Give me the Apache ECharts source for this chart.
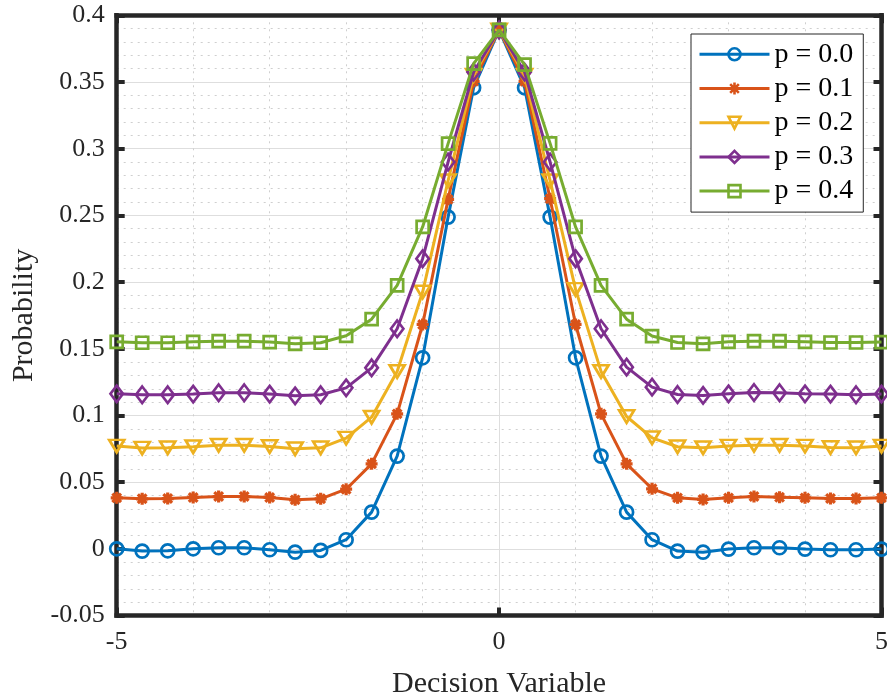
<!DOCTYPE html>
<html>
<head>
<meta charset="utf-8">
<script src="https://cdn.jsdelivr.net/npm/echarts@6/dist/echarts.min.js"></script>
<style>
  html, body { margin: 0; padding: 0; background: #ffffff; }
  #chart { width: 887px; height: 697px; }
</style>
</head>
<body>
<div id="chart"></div>
<script>
// Decision variable sample points (step of 1/3)
const decisionVariable = [-5, -4.667, -4.333, -4, -3.667, -3.333, -3, -2.667, -2.333, -2,
  -1.667, -1.333, -1, -0.667, -0.333, 0, 0.333, 0.667, 1, 1.333, 1.667, 2, 2.333, 2.667,
  3, 3.333, 3.667, 4, 4.333, 4.667, 5];

// Probability curves for each p
const probP00 = [0.0, -0.0017, -0.0015, 0.0, 0.0008, 0.0008, -0.0007, -0.0025, -0.0012, 0.0068,
  0.0275, 0.0695, 0.1432, 0.2487, 0.3457, 0.389, 0.3457, 0.2487, 0.1432, 0.0695, 0.0275, 0.0068,
  -0.0017, -0.0025, -0.0002, 0.0008, 0.0008, -0.0002, -0.0007, -0.0007, -0.0002];
const probP01 = [0.0382, 0.0375, 0.0377, 0.0385, 0.0392, 0.0392, 0.0385, 0.0367, 0.0375, 0.0447,
  0.0637, 0.1012, 0.1682, 0.262, 0.3505, 0.389, 0.3505, 0.2625, 0.1682, 0.1012, 0.0637, 0.045,
  0.0382, 0.037, 0.0382, 0.0392, 0.0387, 0.0382, 0.0377, 0.0377, 0.0382];
const probP02 = [0.077, 0.0755, 0.0757, 0.0765, 0.0777, 0.0777, 0.0767, 0.075, 0.0757, 0.083,
  0.0987, 0.133, 0.1925, 0.276, 0.355, 0.389, 0.355, 0.276, 0.1945, 0.133, 0.0992, 0.0832,
  0.0765, 0.0757, 0.077, 0.0777, 0.0777, 0.077, 0.076, 0.0757, 0.077];
const probP03 = [0.1162, 0.1155, 0.1155, 0.116, 0.117, 0.117, 0.116, 0.1147, 0.1155, 0.1207,
  0.1357, 0.165, 0.2175, 0.29, 0.3575, 0.389, 0.3575, 0.29, 0.2175, 0.165, 0.1362, 0.1212,
  0.1157, 0.115, 0.1162, 0.1172, 0.117, 0.1162, 0.116, 0.1155, 0.116];
const probP04 = [0.1552, 0.1545, 0.1545, 0.1552, 0.1557, 0.1557, 0.155, 0.1537, 0.1545, 0.1597,
  0.1722, 0.1975, 0.2413, 0.3038, 0.3638, 0.389, 0.363, 0.304, 0.2413, 0.1975, 0.1722, 0.1595,
  0.1547, 0.1537, 0.1552, 0.1557, 0.1557, 0.1552, 0.1547, 0.1547, 0.155];

const seriesNames = ['p = 0.0', 'p = 0.1', 'p = 0.2', 'p = 0.3', 'p = 0.4'];
const seriesValues = [probP00, probP01, probP02, probP03, probP04];

// Axis ranges and tick steps
const xRange = [-5, 5];
const xStep = 5;
const yRange = [-0.05, 0.4];
const yStep = 0.05;

const colors = ['#0072BD', '#D95319', '#EDB120', '#7E2F8E', '#77AC30'];
const markers = [
  { symbol: 'circle', size: 13 },
  { symbol: 'path://M0,-1 L0,1 M-1,0 L1,0 M-0.72,-0.72 L0.72,0.72 M-0.72,0.72 L0.72,-0.72', size: 12 },
  { symbol: 'path://M0,0 L10,0 L5,8.66 Z', size: [15, 12.5] },
  { symbol: 'diamond', size: [12.5, 16.5] },
  { symbol: 'rect', size: 12 }
];

const axisInk = '#262626';
const serif = "'Liberation Serif', 'Times New Roman', serif";

const fmt = v => String(Number(v.toFixed(2)));

const frameLine = { show: true, onZero: false, lineStyle: { color: axisInk, width: 4.5, cap: 'square' } };
const inTicks = { show: true, inside: true, length: 8, lineStyle: { color: axisInk, width: 4 } };
const majorGrid = { show: true, lineStyle: { color: '#dedede', width: 1 } };
const minorGrid = { show: true, lineStyle: { color: '#cfcfcf', width: 1, type: [2, 5] } };

const series = seriesNames.map((name, i) => ({
  name: name,
  type: 'line',
  data: decisionVariable.map((x, j) => [x, seriesValues[i][j]]),
  color: colors[i],
  symbol: markers[i].symbol,
  symbolSize: markers[i].size,
  showAllSymbol: true,
  clip: false,
  animation: false,
  lineStyle: { color: colors[i], width: 3 },
  itemStyle: { color: 'rgba(255,255,255,0)', borderColor: colors[i], borderWidth: i === 1 ? 3.2 : 2.7 },
  emphasis: { disabled: true },
  z: 3 + i
}));

const chart = echarts.init(document.getElementById('chart'), null, { renderer: 'canvas' });
chart.setOption({
  backgroundColor: '#ffffff',
  animation: false,
  grid: {
    left: 116.7, right: 5.5, top: 15.3, bottom: 81.5,
    show: false, containLabel: false, outerBoundsMode: 'none'
  },
  legend: {
    orient: 'vertical',
    left: 691, top: 34,
    data: seriesNames,
    selectedMode: false,
    itemWidth: 70, itemHeight: 15, itemGap: 6.2,
    padding: [6.3, 10, 7, 7],
    backgroundColor: '#ffffff',
    borderColor: axisInk, borderWidth: 1,
    lineStyle: { width: 3 },
    itemStyle: { borderWidth: 2.6 },
    textStyle: { fontFamily: serif, fontSize: 28, color: '#000000', lineHeight: 28 }
  },
  xAxis: [{
    type: 'value', min: xRange[0], max: xRange[1], interval: xStep,
    name: 'Decision Variable', nameLocation: 'middle', nameGap: 54,
    nameTextStyle: { fontFamily: serif, fontSize: 30, color: axisInk },
    axisLine: frameLine,
    axisTick: inTicks,
    axisLabel: { fontFamily: serif, fontSize: 26, color: axisInk, margin: 14, formatter: fmt, showMinLabel: true, showMaxLabel: true },
    splitLine: majorGrid,
    minorTick: { show: false, splitNumber: 5 },
    minorSplitLine: minorGrid
  }, {
    type: 'value', position: 'top', min: xRange[0], max: xRange[1], interval: xStep,
    axisLine: frameLine,
    axisTick: inTicks,
    axisLabel: { show: false },
    splitLine: { show: false }
  }],
  yAxis: [{
    type: 'value', min: yRange[0], max: yRange[1], interval: yStep,
    name: 'Probability', nameLocation: 'middle', nameGap: 78,
    nameTextStyle: { fontFamily: serif, fontSize: 30, color: axisInk },
    axisLine: frameLine,
    axisTick: inTicks,
    axisLabel: { fontFamily: serif, fontSize: 26, color: axisInk, margin: 12, formatter: fmt, showMinLabel: true, showMaxLabel: true },
    splitLine: majorGrid,
    minorTick: { show: false, splitNumber: 5 },
    minorSplitLine: minorGrid
  }, {
    type: 'value', position: 'right', min: yRange[0], max: yRange[1], interval: yStep,
    axisLine: frameLine,
    axisTick: inTicks,
    axisLabel: { show: false },
    splitLine: { show: false }
  }],
  series: series
});
</script>
</body>
</html>
